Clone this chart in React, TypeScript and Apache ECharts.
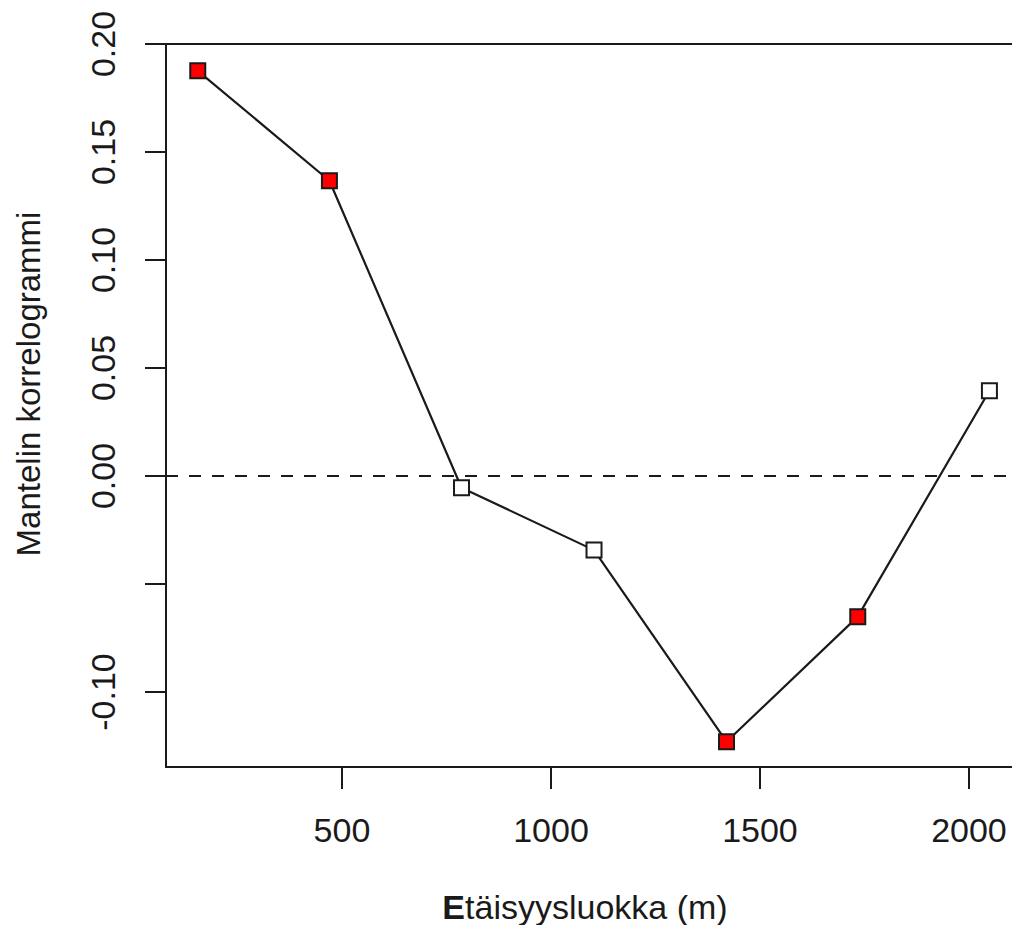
import React, { useEffect, useRef } from "react";
import * as echarts from "echarts";

const distances = [155, 470, 786, 1103, 1420, 1734, 2049];
const mantel = [0.1876, 0.1367, -0.0054, -0.0343, -0.123, -0.0651, 0.0395];
const significant = [true, true, false, false, true, true, false];
const xTicks = [500, 1000, 1500, 2000];
const yTicks = [0.2, 0.15, 0.1, 0.05, 0, -0.05, -0.1];
const yLabels = [0.2, 0.15, 0.1, 0.05, 0, -0.1];
const xTitleBold = "E";
const xTitleRest = "täisyysluokka (m)";
const yTitle = "Mantelin korrelogrammi";

const FONT = "'Liberation Sans', Arial, sans-serif";
const INK = "#1a1a1a";

export default function App() {
  const ref = useRef<HTMLDivElement>(null);
  useEffect(() => {
    if (!ref.current) return;
    const chart = echarts.init(ref.current, null, { renderer: "svg" });
    const points = distances.map((d, i) => ({
      value: [d, mantel[i]],
      itemStyle: { color: significant[i] ? "#ff0000" : "#ffffff" },
    }));
    chart.setOption({
      animation: false,
      backgroundColor: "#ffffff",
      textStyle: { fontFamily: FONT },
      grid: { left: 166, top: 44, right: 0, bottom: 158, containLabel: false },
      xAxis: [
        {
          type: "value",
          min: 79,
          max: 2103,
          position: "bottom",
          splitLine: { show: false },
          axisLine: { show: true, onZero: false, lineStyle: { color: INK, width: 2 } },
          axisTick: { show: true, customValues: xTicks, length: 22, lineStyle: { color: INK, width: 2 } },
          axisLabel: {
            customValues: xTicks,
            color: INK,
            fontSize: 34,
            fontFamily: FONT,
            margin: 46,
            formatter: (v: number) => String(v),
          },
        },
        {
          type: "value",
          min: 79,
          max: 2103,
          position: "top",
          splitLine: { show: false },
          axisLine: { show: true, onZero: false, lineStyle: { color: INK, width: 2 } },
          axisTick: { show: false },
          axisLabel: { show: false },
        },
      ],
      yAxis: {
        type: "value",
        min: -0.1347,
        max: 0.2,
        splitLine: { show: false },
        axisLine: { show: true, onZero: false, lineStyle: { color: INK, width: 2 } },
        axisTick: { show: true, customValues: yTicks, length: 21, lineStyle: { color: INK, width: 2 } },
        axisLabel: {
          customValues: yLabels,
          rotate: 90,
          color: INK,
          fontSize: 34,
          fontFamily: FONT,
          margin: 46,
          formatter: (v: number) => v.toFixed(2),
        },
      },
      graphic: [
        {
          type: "text",
          x: 585,
          y: 907,
          style: {
            text: `{b|${xTitleBold}}{n|${xTitleRest}}`,
            align: "center",
            verticalAlign: "middle",
            lineHeight: 34,
            rich: {
              b: { fontSize: 34, lineHeight: 34, fontWeight: "bold", fontFamily: FONT, fill: INK },
              n: { fontSize: 34, lineHeight: 34, fontFamily: FONT, fill: INK },
            },
          },
        },
        {
          type: "text",
          x: 28,
          y: 384,
          rotation: Math.PI / 2,
          style: {
            text: yTitle,
            fontSize: 33,
            fontFamily: FONT,
            fill: INK,
            align: "center",
            verticalAlign: "middle",
          },
        },
      ],
      series: [
        {
          type: "line",
          data: points,
          symbol: "rect",
          symbolSize: 15,
          showAllSymbol: true,
          lineStyle: { color: INK, width: 2.2 },
          itemStyle: { borderColor: INK, borderWidth: 2 },
          z: 3,
          markLine: {
            silent: true,
            symbol: "none",
            label: { show: false },
            lineStyle: { color: INK, width: 2.2, type: [12, 11] },
            data: [{ yAxis: 0 }],
          },
        },
      ],
    });
    return () => chart.dispose();
  }, []);
  return (
    <div
      ref={ref}
      style={{ position: "fixed", left: 0, top: 0, width: 1012, height: 925 }}
    />
  );
}
